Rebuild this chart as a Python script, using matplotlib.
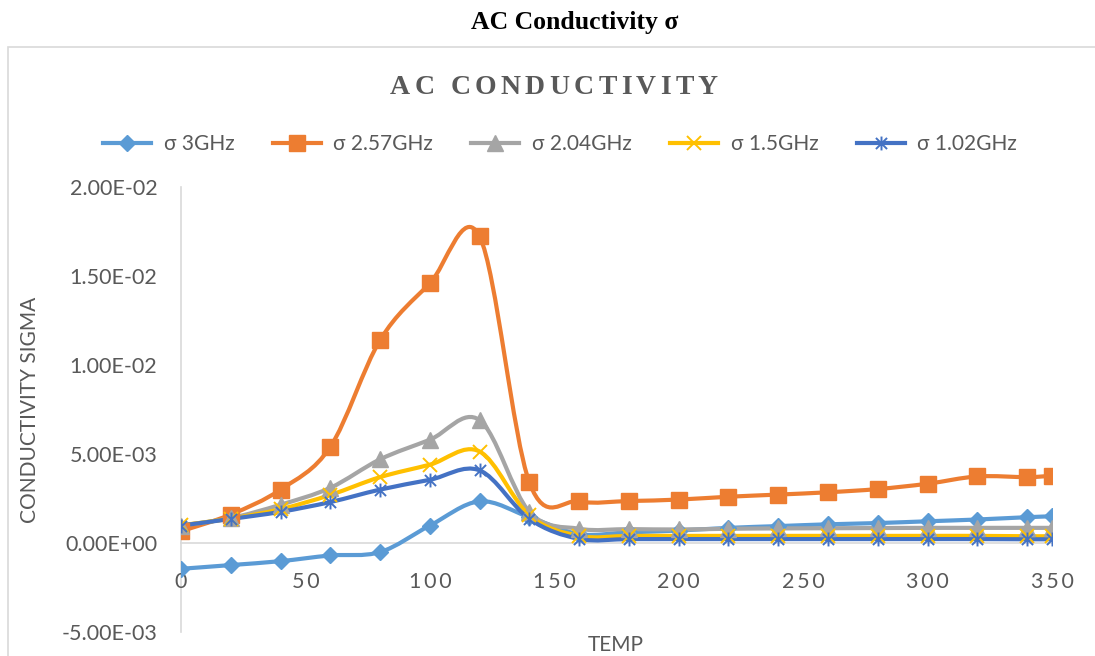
import numpy as np
import matplotlib
matplotlib.use("Agg")
import matplotlib.pyplot as plt
from matplotlib.path import Path
from matplotlib.patches import PathPatch, Rectangle
from matplotlib.lines import Line2D

# ---------------- data ----------------
temp = [0, 20, 40, 60, 80, 100, 120, 140, 160, 180, 200, 220, 240, 260, 280, 300, 320, 340, 350]

sigma_3ghz = [-1.45e-3, -1.24e-3, -1.02e-3, -0.70e-3, -0.51e-3, 0.98e-3, 2.34e-3, 1.45e-3,
              0.50e-3, 0.60e-3, 0.70e-3, 0.85e-3, 0.95e-3, 1.05e-3, 1.12e-3, 1.22e-3,
              1.32e-3, 1.45e-3, 1.50e-3]
sigma_257ghz = [0.66e-3, 1.60e-3, 3.00e-3, 5.40e-3, 1.14e-2, 1.459e-2, 1.722e-2, 3.40e-3,
                2.34e-3, 2.36e-3, 2.44e-3, 2.60e-3, 2.72e-3, 2.85e-3, 3.03e-3, 3.33e-3,
                3.74e-3, 3.70e-3, 3.78e-3]
sigma_204ghz = [0.98e-3, 1.40e-3, 2.15e-3, 3.10e-3, 4.70e-3, 5.80e-3, 6.90e-3, 1.75e-3,
                0.80e-3, 0.78e-3, 0.76e-3, 0.80e-3, 0.82e-3, 0.83e-3, 0.84e-3, 0.85e-3,
                0.85e-3, 0.85e-3, 0.85e-3]
sigma_15ghz = [1.00e-3, 1.37e-3, 1.90e-3, 2.70e-3, 3.70e-3, 4.40e-3, 5.14e-3, 1.55e-3,
               0.40e-3, 0.40e-3, 0.40e-3, 0.40e-3, 0.40e-3, 0.40e-3, 0.40e-3, 0.40e-3,
               0.40e-3, 0.38e-3, 0.38e-3]
sigma_102ghz = [0.98e-3, 1.35e-3, 1.75e-3, 2.30e-3, 3.00e-3, 3.55e-3, 4.08e-3, 1.35e-3,
                0.23e-3, 0.22e-3, 0.22e-3, 0.22e-3, 0.22e-3, 0.22e-3, 0.22e-3, 0.22e-3,
                0.22e-3, 0.21e-3, 0.21e-3]

series_labels = ["σ 3GHz", "σ 2.57GHz", "σ 2.04GHz", "σ 1.5GHz", "σ 1.02GHz"]
xticks = [0, 50, 100, 150, 200, 250, 300, 350]
yticks = [-5e-3, 0, 5e-3, 1e-2, 1.5e-2, 2e-2]
ytick_labels = ["-5.00E-03", "0.00E+00", "5.00E-03", "1.00E-02", "1.50E-02", "2.00E-02"]

# ---------------- style ----------------
colors = ["#5B9BD5", "#ED7D31", "#A5A5A5", "#FFC000", "#4472C4"]
TXT = "#595959"
SANS = ["Lato", "DejaVu Sans"]
SERIF = ["Liberation Serif", "DejaVu Serif"]

star_path = Path([(-1, -1), (1, 1), (-1, 1), (1, -1), (0, -1.25), (0, 1.25)],
                 [Path.MOVETO, Path.LINETO, Path.MOVETO, Path.LINETO, Path.MOVETO, Path.LINETO])
marker_specs = [
    dict(marker="D", markersize=8.5, markerfacecolor=colors[0], markeredgecolor=colors[0]),
    dict(marker="s", markersize=11.5, markerfacecolor=colors[1], markeredgecolor=colors[1]),
    dict(marker="^", markersize=11, markerfacecolor=colors[2], markeredgecolor=colors[2]),
    dict(marker="x", markersize=10, markeredgewidth=1.4, markeredgecolor=colors[3]),
    dict(marker=star_path, markersize=10, markeredgewidth=1.4, markeredgecolor=colors[4]),
]

W, H = 1095, 656
fig = plt.figure(figsize=(W / 100, H / 100), dpi=100)
fig.patch.set_facecolor("white")

# outer chart frame
fig.patches.append(Rectangle((8 / W, -0.05), 1.2, 1 - 47 / H + 0.05, transform=fig.transFigure,
                             fill=False, edgecolor="#D9D9D9", linewidth=1.2))

ax = fig.add_axes([181 / W, 1 - 632 / H, (1052 - 181) / W, (632 - 187) / H])
ax.set_xlim(0, 350)
ax.set_ylim(-5e-3, 2e-2)
ax.set_facecolor("none")


def smooth_path(xs, ys):
    pts = np.column_stack([xs, ys]).astype(float)
    n = len(pts)
    verts = [pts[0]]
    codes = [Path.MOVETO]
    for i in range(n - 1):
        p0 = pts[i - 1] if i > 0 else pts[i]
        p1 = pts[i]
        p2 = pts[i + 1]
        p3 = pts[i + 2] if i + 2 < n else pts[i + 1]
        c1 = p1 + (p2 - p0) / 6.0
        c2 = p2 - (p3 - p1) / 6.0
        verts += [c1, c2, p2]
        codes += [Path.CURVE4] * 3
    return Path(verts, codes)


all_series = [sigma_3ghz, sigma_257ghz, sigma_204ghz, sigma_15ghz, sigma_102ghz]
handles = []
for i, ys in enumerate(all_series):
    patch = PathPatch(smooth_path(temp, ys), facecolor="none", edgecolor=colors[i],
                      linewidth=3, zorder=2 + i * 0.1, capstyle="round", joinstyle="round")
    ax.add_patch(patch)
    ax.plot(temp, ys, linestyle="none", zorder=3 + i * 0.1, **marker_specs[i])
    handles.append(Line2D([0], [0], color=colors[i], linewidth=3, **marker_specs[i]))

# axes styling
for s in ["top", "right"]:
    ax.spines[s].set_visible(False)
ax.spines["left"].set_color("#D9D9D9")
ax.spines["left"].set_linewidth(1.2)
ax.spines["left"].set_position(("data", 0))
ax.spines["bottom"].set_color("#D9D9D9")
ax.spines["bottom"].set_linewidth(1.2)
ax.spines["bottom"].set_position(("data", 0))
ax.spines["bottom"].set_zorder(0.5)
ax.spines["left"].set_zorder(0.5)

ax.set_xticks(xticks)
ax.set_xticklabels(["\u2009".join(str(t)) for t in xticks])
ax.set_yticks(yticks)
ax.set_yticklabels(ytick_labels)
ax.tick_params(axis="both", length=0, colors=TXT)
ax.tick_params(axis="x", pad=21)
ax.tick_params(axis="y", pad=17)
for lab in ax.get_xticklabels():
    lab.set_fontfamily(SANS)
    lab.set_fontsize(15.5)
for lab in ax.get_yticklabels():
    lab.set_fontfamily(SANS)
    lab.set_fontsize(15.5)

fig.text(30 / W, 1 - 410 / H, "CONDUCTIVITY SIGMA", rotation=90, ha="center", va="center",
         color=TXT, fontsize=15, family=SANS)
fig.text(616 / W, 1 - 645 / H, "TEMP", ha="center", va="center", color=TXT,
         fontsize=15, family=SANS)

# top title
fig.text(575 / W, 1 - 22 / H, "AC Conductivity σ", ha="center", va="center",
         fontsize=18.5, fontweight="bold", family=SERIF, color="black")

# spaced inner title
renderer = fig.canvas.get_renderer()
title = "AC CONDUCTIVITY"
x_left, x_right, y_c = 390, 718, 87
fs_title = 20
widths = []
for ch in title:
    t = fig.text(0, 0, ch, fontsize=fs_title, fontweight="bold", family=SERIF)
    widths.append(t.get_window_extent(renderer).width)
    t.remove()
extra = (x_right - x_left - sum(widths)) / (len(title) - 1)
xpos = x_left
for ch, w in zip(title, widths):
    fig.text(xpos / W, 1 - y_c / H, ch, fontsize=fs_title, fontweight="bold", family=SERIF,
             color=TXT, ha="left", va="center")
    xpos += w + extra

leg = fig.legend(handles, series_labels, loc="center", bbox_to_anchor=(560 / W, 1 - 144 / H),
                 ncol=5, frameon=False, handlelength=2.3, columnspacing=1.85, handletextpad=0.6,
                 prop={"family": SANS, "size": 15})
for t in leg.get_texts():
    t.set_color(TXT)

fig.savefig("out.png", dpi=100, facecolor="white")
